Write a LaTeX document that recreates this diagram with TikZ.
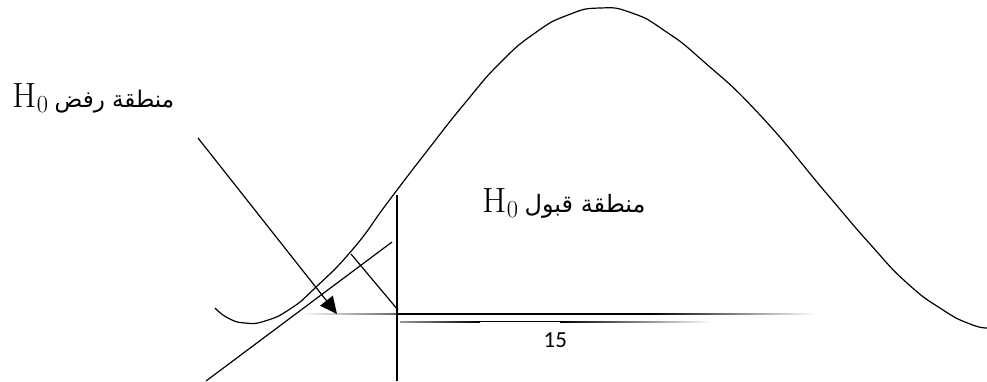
\RequirePackage{fix-cm}
\documentclass[tikz,border=0pt]{standalone}
\usepackage{fontspec}
\usepackage{tikz}
\usetikzlibrary{arrows.meta}
\TeXXeTstate=1
\newfontfamily\arabicfont[Script=Arabic]{DejaVu Sans}
\newfontfamily\numfont{Carlito}

\begin{document}
\begin{tikzpicture}[x=1pt,y=-1pt,line width=1.2pt]
\useasboundingbox (0,0) rectangle (987,381);
% density curve
\draw plot[smooth,tension=0.9] coordinates {(215,308) (228,318) (245,323) (265,321) (290,309) (315,288) (353,249) (388,202) (427,151) (465,103) (500,63) (535,33) (568,15) (600,8) (632,13) (665,31) (703,61) (760,115) (827,194) (870,244) (907,283) (943,310) (970,324) (987,328)};
% axis (faded ends)
\shade[left color=white,right color=black!60] (300,313.4) rectangle (397,314.6);
\fill (397,313.3) rectangle (650,314.7);
\shade[left color=black,right color=white] (650,313.3) rectangle (817,314.7);
\shade[left color=black!40,right color=black] (400,321) rectangle (480,322.2);
\fill (480,321) rectangle (560,322.2);
\shade[left color=black,right color=white] (560,321) rectangle (713,322.2);
% critical value
\coordinate (vtop) at (397,195);
\coordinate (vbot) at (397,381);
\draw (vtop) -- (vbot);
\coordinate (tanA) at (206,381);
\coordinate (tanB) at (392,242);
\draw (tanA) -- (tanB);
\coordinate (perpA) at (351,254);
\coordinate (perpB) at (398,310);
\draw (perpA) -- (perpB);
% labels
\node[anchor=base west,inner sep=0] (reject) at (12,107) {\fontsize{35}{40}\selectfont H$_0$\hspace{6pt}\arabicfont\fontsize{23}{30}\selectfont\beginR منطقة رفض\endR};
\node[anchor=base west,inner sep=0] (accept) at (482,212) {\fontsize{35}{40}\selectfont H$_0$\hspace{6pt}\arabicfont\fontsize{24}{30}\selectfont\beginR منطقة قبول\endR};
\node[anchor=north west,inner sep=0] (crit) at (543,332) {\numfont\fontsize{23}{26}\selectfont 15};
\coordinate (arrowstart) at (198,138);
\coordinate (arrowtip) at (337,314);
\draw[-{Triangle[length=17pt,width=16pt]}] (arrowstart) -- (arrowtip);
\end{tikzpicture}
\end{document}
